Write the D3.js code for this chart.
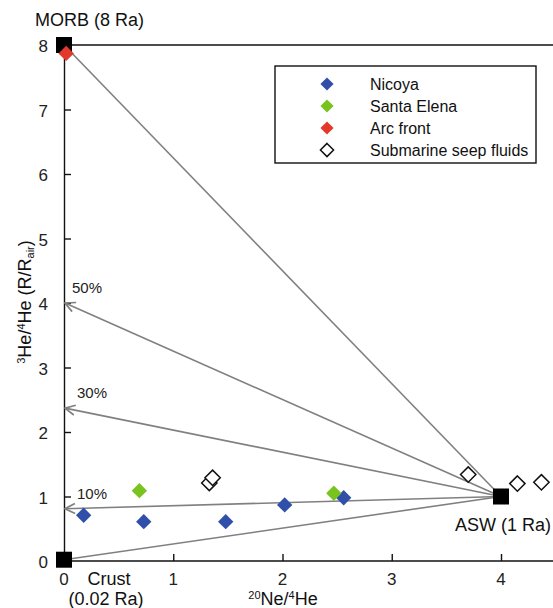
<!DOCTYPE html>
<html>
<head>
<meta charset="utf-8">
<script src="https://cdn.jsdelivr.net/npm/d3@7"></script>
<style>
	body { margin: 0; background: #fff; }
	svg { font-family: "Liberation Sans", Arial, sans-serif; }
</style>
</head>
<body>
<div id="chart"></div>
<script>
// samples: [20Ne/4He, 3He/4He (R/Rair)]
const nicoya = [[0.18, 0.71], [0.73, 0.61], [1.48, 0.61], [2.02, 0.87], [2.56, 0.98]];
const santa_elena = [[0.69, 1.09], [2.47, 1.05]];
const arc_front = [[0.02, 7.87]];
const seep_fluids = [[1.33, 1.21], [1.36, 1.29], [3.70, 1.34], [4.15, 1.20], [4.37, 1.22]];

// end members and mixing lines
const end_members = [
	{ name: "MORB", x: 0, y: 8 },
	{ name: "Crust", x: 0, y: 0.02 },
	{ name: "ASW", x: 4, y: 1 }
];
const mixing = [
	{ label: "", y: 8, arrow: false },
	{ label: "50%", y: 4.0, arrow: true },
	{ label: "30%", y: 2.37, arrow: true },
	{ label: "10%", y: 0.81, arrow: true },
	{ label: "", y: 0.02, arrow: false }
];

const x_ticks = [0, 1, 2, 3, 4];
const y_ticks = [0, 1, 2, 3, 4, 5, 6, 7, 8];

const series = [
	{ name: "Nicoya", data: nicoya, fill: "#2f4fa9", stroke: "none" },
	{ name: "Santa Elena", data: santa_elena, fill: "#79c31f", stroke: "none" },
	{ name: "Arc front", data: arc_front, fill: "#e2392b", stroke: "none" },
	{ name: "Submarine seep fluids", data: seep_fluids, fill: "#fff", stroke: "#111" }
];

const W = 553, H = 608;
const m_left = 64, m_top = 45, m_bottom = 561;

const x = d3.scaleLinear().domain([0, 4]).range([m_left, 501]);
const y = d3.scaleLinear().domain([0, 8]).range([m_bottom, m_top]);

const svg = d3.select('#chart').append('svg')
	.attr('width', W)
	.attr('height', H);

svg.append('defs')
	.append('marker')
	.attr('id', 'arr')
	.attr('viewBox', '0 0 12 12')
	.attr('refX', 11)
	.attr('refY', 6)
	.attr('markerWidth', 12)
	.attr('markerHeight', 12)
	.attr('markerUnits', 'userSpaceOnUse')
	.attr('orient', 'auto')
	.append('path')
	.attr('d', 'M1,1 L11,6 L1,11')
	.attr('fill', 'none')
	.attr('stroke', '#808080')
	.attr('stroke-width', 1.7);

// frame: top line
svg.append('line')
	.attr('x1', m_left).attr('x2', W)
	.attr('y1', m_top).attr('y2', m_top)
	.attr('stroke', '#111').attr('stroke-width', 1.4);

// axes
const xa = svg.append('g')
	.attr('transform', `translate(0,${m_bottom})`)
	.call(d3.axisTop(x).tickValues(x_ticks).tickSize(7).tickFormat(''));
xa.select('.domain').attr('d', `M${m_left},0H${W}`);

const ya = svg.append('g')
	.attr('transform', `translate(${m_left},0)`)
	.call(d3.axisRight(y).tickValues(y_ticks).tickSize(7).tickFormat(''));

svg.selectAll('.domain').attr('stroke', '#111').attr('stroke-width', 1.4);
svg.selectAll('.tick line').attr('stroke', '#111').attr('stroke-width', 1.4);

svg.append('g').selectAll('text')
	.data(x_ticks)
	.enter().append('text')
	.attr('x', d => x(d))
	.attr('y', m_bottom + 24)
	.attr('text-anchor', 'middle')
	.attr('font-size', 17)
	.attr('fill', '#222')
	.text(d => d);

svg.append('g').selectAll('text')
	.data(y_ticks)
	.enter().append('text')
	.attr('x', m_left - 16)
	.attr('y', d => y(d) + 7)
	.attr('text-anchor', 'end')
	.attr('font-size', 17)
	.attr('fill', '#222')
	.text(d => d);

// mixing lines from ASW
const asw = end_members[2];
svg.append('g').selectAll('line')
	.data(mixing)
	.enter().append('line')
	.attr('x1', x(asw.x)).attr('y1', y(asw.y))
	.attr('x2', d => x(0) + (d.arrow ? 1 : 0))
	.attr('y2', d => y(d.y))
	.attr('stroke', '#808080')
	.attr('stroke-width', 1.6)
	.attr('marker-end', d => d.arrow ? 'url(#arr)' : null);

svg.append('g').selectAll('text')
	.data(mixing.filter(d => d.label))
	.enter().append('text')
	.attr('x', (d, i) => x(0) + (i === 0 ? 8 : 13))
	.attr('y', d => y(d.y) - 10)
	.attr('font-size', 15)
	.attr('fill', '#222')
	.text(d => d.label);

// end member squares
svg.append('g').selectAll('rect')
	.data(end_members)
	.enter().append('rect')
	.attr('x', d => x(d.x) - 8)
	.attr('y', d => y(d.y) - 8)
	.attr('width', 16)
	.attr('height', 16)
	.attr('fill', '#000');

// samples
const diamond = d3.symbol().type(d3.symbolDiamond2).size(150);
for (let s of series) {
	svg.append('g').selectAll('path')
		.data(s.data)
		.enter().append('path')
		.attr('transform', d => `translate(${x(d[0])},${y(d[1])})`)
		.attr('d', diamond)
		.attr('fill', s.fill)
		.attr('stroke', s.stroke)
		.attr('stroke-width', 1.5);
}

// end member labels
svg.append('text')
	.attr('x', 35).attr('y', 26)
	.attr('font-size', 18)
	.attr('fill', '#111')
	.text("MORB (8 Ra)");

svg.append('text')
	.attr('x', 551).attr('y', 531)
	.attr('text-anchor', 'end')
	.attr('font-size', 18)
	.attr('fill', '#111')
	.text("ASW (1 Ra)");

svg.append('text')
	.attr('x', 109).attr('y', 585)
	.attr('text-anchor', 'middle')
	.attr('font-size', 18)
	.attr('fill', '#111')
	.text("Crust");

svg.append('text')
	.attr('x', 106).attr('y', 605)
	.attr('text-anchor', 'middle')
	.attr('font-size', 18)
	.attr('fill', '#111')
	.text("(0.02 Ra)");

// axis titles
const xt = svg.append('text')
	.attr('x', 283).attr('y', 605)
	.attr('text-anchor', 'middle')
	.attr('font-size', 18)
	.attr('fill', '#111');
xt.append('tspan').attr('font-size', 11).attr('dy', -6).text("20");
xt.append('tspan').attr('dy', 6).text("Ne/");
xt.append('tspan').attr('font-size', 11).attr('dy', -6).text("4");
xt.append('tspan').attr('dy', 6).text("He");

const yt = svg.append('text')
	.attr('transform', 'translate(31,302) rotate(-90)')
	.attr('text-anchor', 'middle')
	.attr('font-size', 18)
	.attr('fill', '#111');
yt.append('tspan').attr('font-size', 11).attr('dy', -6).text("3");
yt.append('tspan').attr('dy', 6).text("He/");
yt.append('tspan').attr('font-size', 11).attr('dy', -6).text("4");
yt.append('tspan').attr('dy', 6).text("He (R/R");
yt.append('tspan').attr('font-size', 11).attr('dy', 3).text("air");
yt.append('tspan').attr('dy', -3).text(")");

// legend
const lg = svg.append('g').attr('transform', 'translate(275,66)');
lg.append('rect')
	.attr('width', 261).attr('height', 97)
	.attr('fill', '#fff')
	.attr('stroke', '#111')
	.attr('stroke-width', 1.4);

const items = lg.selectAll('g.item')
	.data(series)
	.enter().append('g')
	.attr('class', 'item')
	.attr('transform', (d, i) => `translate(0,${18 + i * 22})`);

items.append('path')
	.attr('transform', 'translate(52,0)')
	.attr('d', d3.symbol().type(d3.symbolDiamond2).size(110))
	.attr('fill', d => d.fill)
	.attr('stroke', d => d.stroke)
	.attr('stroke-width', 1.5);

items.append('text')
	.attr('x', 95)
	.attr('y', 6)
	.attr('font-size', 16)
	.attr('fill', '#111')
	.text(d => d.name);
</script>
</body>
</html>
